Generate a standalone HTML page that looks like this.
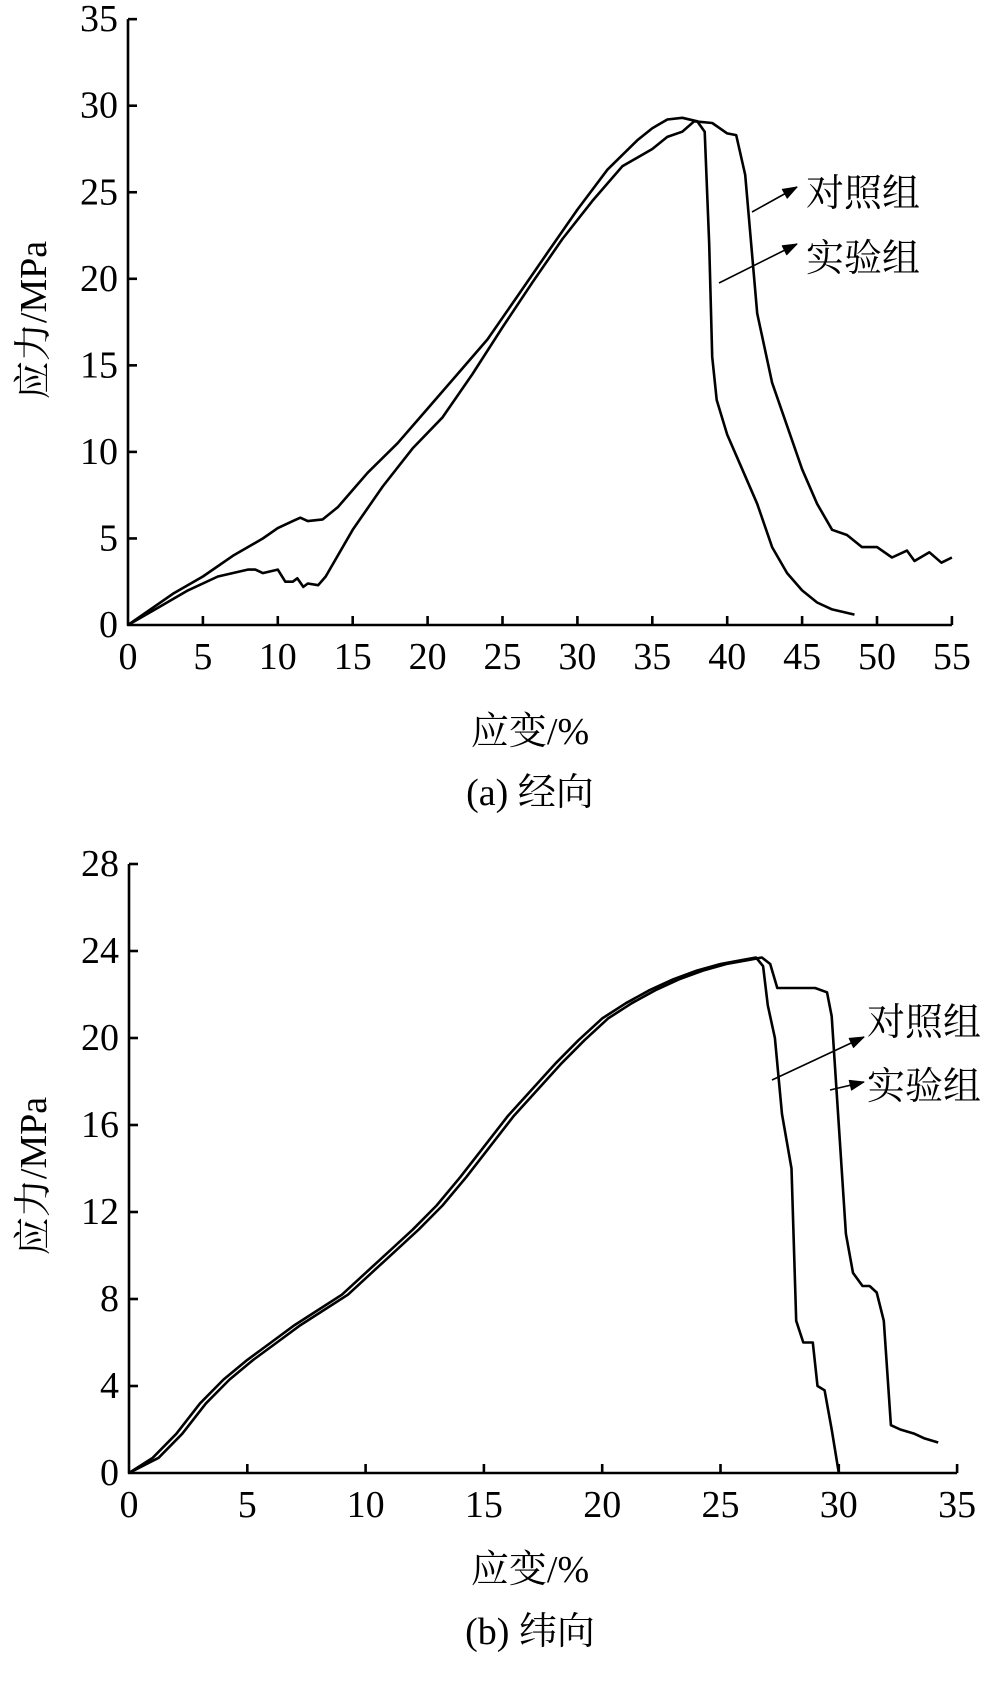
<!DOCTYPE html>
<html><head><meta charset="utf-8"><style>
body{margin:0;background:#fff}
svg text{font-family:"Liberation Serif","Noto Serif CJK SC",serif;fill:#000}
</style></head><body>
<svg id="s" width="1000" height="1676" viewBox="0 0 1000 1676" xmlns="http://www.w3.org/2000/svg">
<g id="g" fill="none" stroke="#000" stroke-width="2.6" stroke-linejoin="round"></g>
<g font-size="38">
<text x="806" y="206">对照组</text>
<text x="806" y="271">实验组</text>
<text x="867" y="1035">对照组</text>
<text x="867" y="1099">实验组</text>
<text x="530" y="744" text-anchor="middle">应变/%</text>
<text x="530" y="1582" text-anchor="middle">应变/%</text>
<text x="530" y="805" text-anchor="middle">(a) 经向</text>
<text x="530" y="1644" text-anchor="middle">(b) 纬向</text>
<text transform="translate(46,320) rotate(-90)" text-anchor="middle">应力/MPa</text>
<text transform="translate(46,1176) rotate(-90)" text-anchor="middle">应力/MPa</text>
</g>
<g id="t" font-size="38"></g>
</svg>
<script>
var g=document.getElementById('g'),t=document.getElementById('t'),NS='http://www.w3.org/2000/svg';
function el(p,n,a,txt){var e=document.createElementNS(NS,n);for(var k in a)e.setAttribute(k,a[k]);if(txt!==undefined)e.textContent=txt;p.appendChild(e);return e;}
function chart(x0,y0,sx,sy,xmax,xstep,ymax,ystep,series){
  var X=function(v){return x0+v*sx},Y=function(v){return y0-v*sy};
  el(g,'path',{d:'M'+X(0)+' '+Y(ymax)+'L'+X(0)+' '+y0+'L'+X(xmax)+' '+y0});
  for(var v=0;v<=xmax+1e-9;v+=xstep){if(v>0)el(g,'line',{x1:X(v),y1:y0,x2:X(v),y2:y0-9});
    el(t,'text',{x:X(v),y:y0+44,'text-anchor':'middle'},String(v));}
  for(var v=0;v<=ymax+1e-9;v+=ystep){if(v>0)el(g,'line',{x1:x0,y1:Y(v),x2:x0+9,y2:Y(v)});
    el(t,'text',{x:x0-10,y:Y(v)+12,'text-anchor':'end'},String(v));}
  series.forEach(function(s){el(g,'path',{d:'M'+s.map(function(p){return X(p[0]).toFixed(1)+' '+Y(p[1]).toFixed(1)}).join('L')});});
}
chart(128,625,14.98,17.31,55,5,35,5,[
 [[0,0],[3,1.8],[5,2.8],[7,4],[9,5],[10,5.6],[11,6],[11.5,6.2],[12,6],[13,6.1],[14,6.8],[15,7.8],[16,8.8],[18,10.5],[20,12.5],[22,14.5],[24,16.5],[26,19],[28,21.5],[30,24],[32,26.3],[34,28],[35,28.7],[36,29.2],[37,29.3],[38,29.1],[38.5,28.5],[38.8,22],[39,15.5],[39.3,13],[40,11],[41,9],[42,7],[43,4.5],[44,3],[45,2],[46,1.3],[47,0.9],[48.5,0.6]],
 [[0,0],[2,1],[4,2],[6,2.8],[8,3.2],[8.5,3.2],[9,3],[10,3.2],[10.5,2.5],[11,2.5],[11.3,2.7],[11.7,2.2],[12,2.4],[12.7,2.3],[13.2,2.8],[15,5.5],[17,8],[19,10.2],[21,12],[23,14.5],[25,17.2],[27,19.8],[29,22.3],[31,24.5],[33,26.5],[35,27.5],[36,28.2],[37,28.5],[37.8,29.1],[39,29],[40,28.4],[40.6,28.3],[41.2,26],[41.6,22],[42,18],[43,14],[44,11.5],[45,9],[46,7],[47,5.5],[48,5.2],[49,4.5],[50,4.5],[51,3.9],[52,4.3],[52.5,3.7],[53.5,4.2],[54.3,3.6],[55,3.9]]
]);
var b1=[[0,0],[1,0.7],[2,1.8],[3,3.2],[4,4.3],[5,5.2],[6,6],[7,6.8],[8,7.5],[9,8.2],[10,9.2],[11,10.2],[12,11.2],[13,12.3],[14,13.6],[15,15],[16,16.4],[17,17.6],[18,18.8],[19,19.9],[20,20.9],[21,21.6],[22,22.2],[23,22.7],[24,23.1],[25,23.4],[26,23.6],[26.5,23.7]];
var b2=b1.map(function(p){return [p[0]===0?0:p[0]+0.25,p[1]]});
chart(129,1473,23.66,21.75,35,5,28,4,[
 b1.concat([[26.8,23.3],[27,21.5],[27.3,20],[27.6,16.5],[28,14],[28.2,7],[28.5,6],[28.9,6],[29.1,4],[29.4,3.8],[29.7,2],[30,0]]),
 b2.concat([[27.1,23.4],[27.4,22.3],[29,22.3],[29.5,22.1],[29.7,21],[30,16],[30.3,11],[30.6,9.2],[31,8.6],[31.3,8.6],[31.6,8.3],[31.9,7],[32.2,2.2],[32.6,2],[33.2,1.8],[33.6,1.6],[34.2,1.4]])
]);
function arrow(x1,y1,x2,y2){el(g,'line',{x1:x1,y1:y1,x2:x2,y2:y2,'stroke-width':1.6});
 var a=Math.atan2(y2-y1,x2-x1),L=14,w=5;
 var p=[[x2,y2],[x2-L*Math.cos(a)+w*Math.sin(a),y2-L*Math.sin(a)-w*Math.cos(a)],[x2-L*Math.cos(a)-w*Math.sin(a),y2-L*Math.sin(a)+w*Math.cos(a)]];
 el(g,'polygon',{points:p.map(function(q){return q.join(',')}).join(' '),fill:'#000','stroke-width':1});}
arrow(752,212,797,187);arrow(719,283,797,244);arrow(772,1080,864,1037);arrow(830,1090,864,1082);
</script>
</body></html>
